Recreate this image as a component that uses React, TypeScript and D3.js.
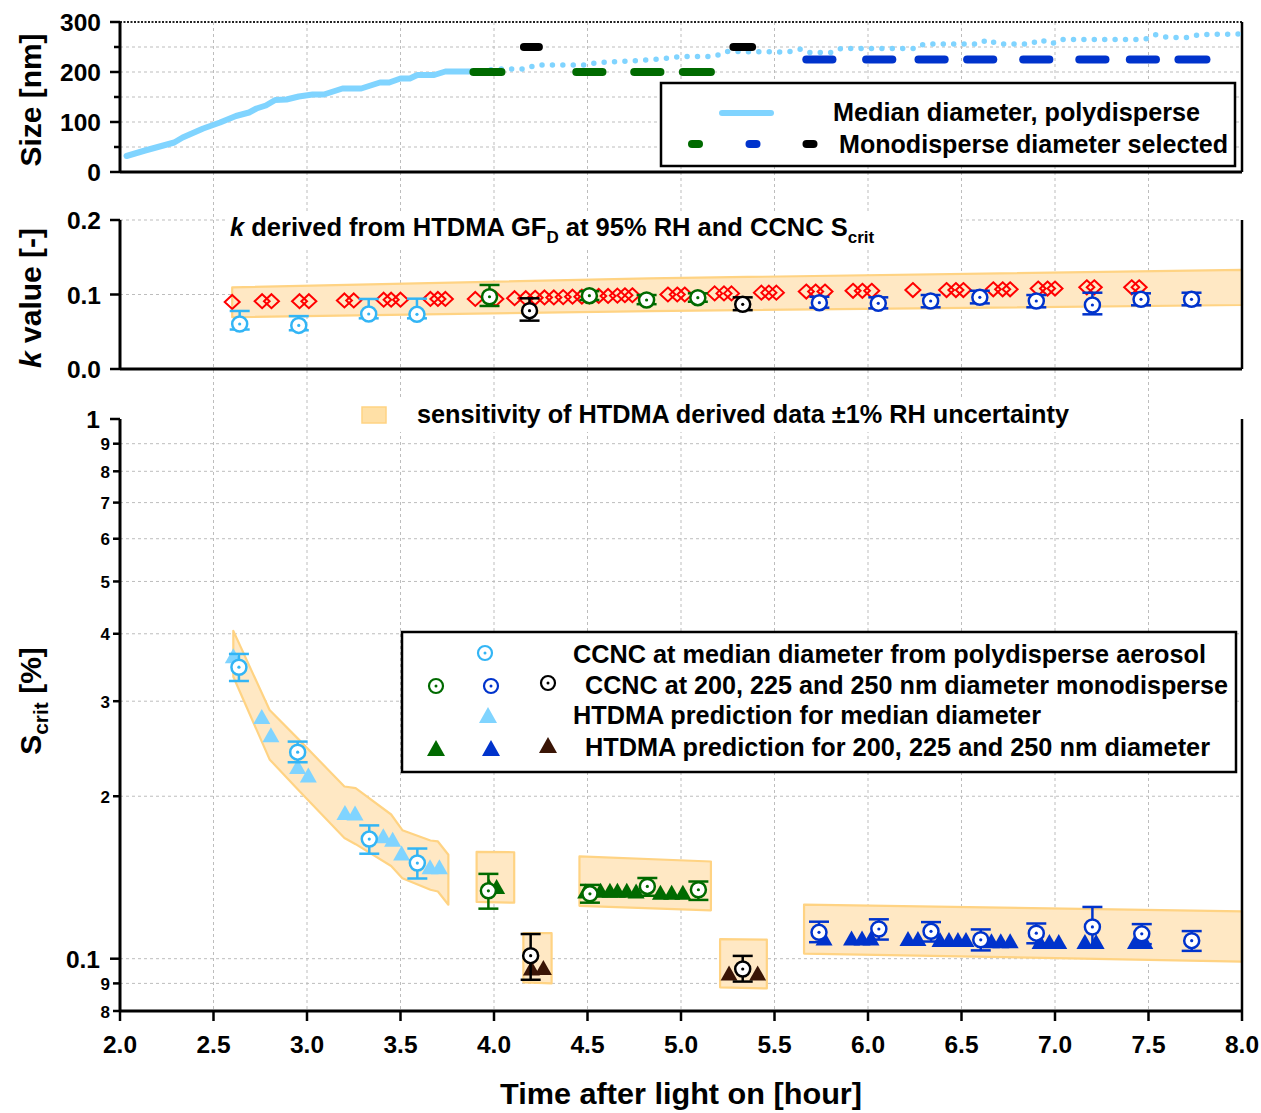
import React from "react";
import * as d3 from "d3";

// ---------------- data ----------------
const timeTicks = [2.0, 2.5, 3.0, 3.5, 4.0, 4.5, 5.0, 5.5, 6.0, 6.5, 7.0, 7.5, 8.0];
const sizeTicks = [0, 100, 200, 300];
const sizeMinor = [50, 150, 250];
const sizeGrid = [50, 100, 150, 200, 250];
const kTicks = [0.0, 0.1, 0.2];
const kGrid = [0.1, 0.2];
const sMajor = [1, 0.1];
const sMinor = [0.9, 0.8, 0.7, 0.6, 0.5, 0.4, 0.3, 0.2, 0.09, 0.08];
const sGrid = [0.9, 0.8, 0.7, 0.6, 0.5, 0.4, 0.3, 0.2, 0.1, 0.09];

// Median diameter (polydisperse) - solid part
const medianT = [2.035, 2.134, 2.29, 2.335, 2.445, 2.535, 2.62, 2.69, 2.73, 2.78, 2.83, 2.89, 2.956, 3.03, 3.09, 3.19, 3.29, 3.39, 3.44, 3.5, 3.55, 3.59, 3.68, 3.74, 3.89];
const medianD = [32, 43, 59, 69, 87, 99, 112, 119, 127, 133, 144, 145, 151, 155, 155, 167, 167, 179, 179, 187, 187, 194, 194, 201, 201];
// Median diameter - dotted continuation
const medianDotT = [3.93, 4.0, 4.17, 4.22, 4.49, 4.55, 4.73, 4.89, 5.0, 5.18, 5.24, 5.57, 5.64, 5.69, 5.8, 5.855, 6.25, 6.3, 6.59, 6.64, 6.69, 6.87, 6.92, 6.98, 7.03, 7.48, 7.54, 7.6, 7.71, 7.77, 8.0];
const medianDotD = [199, 206, 206, 214, 214, 219, 222, 226, 231, 231, 241, 240, 246, 239, 239, 247, 247, 256, 256, 265, 256, 256, 265, 256, 265, 265, 275, 269, 269, 275, 276];

// Monodisperse selected diameter periods [start, end]
const mono200 = [[3.89, 4.04], [4.44, 4.58], [4.75, 4.89], [5.01, 5.16]];
const mono225 = [[5.67, 5.81], [5.99, 6.13], [6.27, 6.41], [6.53, 6.67], [6.83, 6.97], [7.13, 7.27], [7.4, 7.54], [7.66, 7.81]];
const mono250 = [[4.16, 4.24], [5.28, 5.38]];

// k panel: sensitivity band
const kBandT = [2.6, 4.83, 8.0];
const kBandHi = [0.1096, 0.1217, 0.133];
const kBandLo = [0.0695, 0.0778, 0.0859];

// k from HTDMA (red diamonds)
const kHtdmaT = [2.6, 2.76, 2.81, 2.96, 3.01, 3.2, 3.25, 3.41, 3.45, 3.5, 3.66, 3.7, 3.74, 3.9, 4.01,
  4.11, 4.17, 4.22, 4.27, 4.32, 4.37, 4.42, 4.47, 4.51, 4.56, 4.61, 4.66, 4.7, 4.74,
  4.93, 4.98, 5.02, 5.18, 5.23, 5.27, 5.43, 5.47, 5.51, 5.67, 5.72, 5.77, 5.92, 5.97, 6.02,
  6.24, 6.42, 6.47, 6.51, 6.67, 6.72, 6.76, 6.91, 6.96, 7.0, 7.17, 7.21, 7.41, 7.45];
const kHtdmaV = [0.09, 0.091, 0.091, 0.091, 0.091, 0.092, 0.092, 0.093, 0.093, 0.093, 0.094, 0.094, 0.094, 0.094, 0.094,
  0.095, 0.095, 0.0955, 0.096, 0.096, 0.0965, 0.097, 0.097, 0.0975, 0.098, 0.098, 0.0985, 0.099, 0.099,
  0.1, 0.1, 0.1, 0.1015, 0.1015, 0.1015, 0.1025, 0.1025, 0.1025, 0.104, 0.104, 0.104, 0.105, 0.105, 0.105,
  0.106, 0.106, 0.106, 0.106, 0.107, 0.107, 0.107, 0.108, 0.108, 0.108, 0.1097, 0.1097, 0.1097, 0.1097];

// k from CCNC (circles, with error bars)
const kMedT = [2.64, 2.956, 3.33, 3.588];
const kMedV = [0.0604, 0.0585, 0.0738, 0.0734];
const kMedHi = [0.0779, 0.071, 0.094, 0.0944];
const kMedLo = [0.053, 0.052, 0.068, 0.068];
const k200T = [3.976, 4.51, 4.816, 5.09];
const k200V = [0.097, 0.0984, 0.0926, 0.0957];
const k200Hi = [0.1128, 0.1045, 0.0993, 0.1016];
const k200Lo = [0.0846, 0.0926, 0.087, 0.0903];
const k225T = [5.74, 6.055, 6.335, 6.598, 6.9, 7.2, 7.46, 7.73];
const k225V = [0.089, 0.0881, 0.0913, 0.0962, 0.0913, 0.0859, 0.0935, 0.0935];
const k225Hi = [0.097, 0.0962, 0.0993, 0.105, 0.0993, 0.1024, 0.1016, 0.1024];
const k225Lo = [0.0823, 0.0814, 0.0828, 0.0881, 0.0828, 0.0734, 0.0855, 0.0855];
const k250T = [4.19, 5.33];
const k250V = [0.0783, 0.0868];
const k250Hi = [0.0949, 0.0962];
const k250Lo = [0.0649, 0.079];

// S_crit panel: sensitivity bands
const bandMedT = [2.606, 2.8, 2.95, 3.2, 3.26, 3.45, 3.51, 3.66, 3.7, 3.756];
const bandMedHi = [0.405, 0.289, 0.256, 0.2085, 0.207, 0.185, 0.173, 0.1656, 0.1649, 0.1558];
const bandMedLo = [0.333, 0.234, 0.206, 0.1673, 0.163, 0.1485, 0.141, 0.1342, 0.1332, 0.1259];
const band200aT = [3.907, 4.108];
const band200aHi = [0.1578, 0.1575];
const band200aLo = [0.1274, 0.127];
const band250aT = [4.157, 4.308];
const band250aHi = [0.1115, 0.1115];
const band250aLo = [0.0904, 0.09];
const band200bT = [4.457, 5.16];
const band200bHi = [0.1547, 0.1514];
const band200bLo = [0.1253, 0.1229];
const band250bT = [5.209, 5.459];
const band250bHi = [0.1087, 0.1085];
const band250bLo = [0.0885, 0.0881];
const band225T = [5.658, 8.0];
const band225Hi = [0.1259, 0.1224];
const band225Lo = [0.1022, 0.0988];

// S_crit from HTDMA (triangles)
const sHtMedT = [2.606, 2.758, 2.807, 2.95, 3.007, 3.203, 3.257, 3.408, 3.458, 3.506, 3.658, 3.708];
const sHtMedV = [0.364, 0.281, 0.26, 0.227, 0.219, 0.1866, 0.1862, 0.169, 0.1664, 0.157, 0.148, 0.148];
const sHt200T = [3.975, 4.014, 4.49, 4.57, 4.62, 4.66, 4.71, 4.76, 4.89, 4.95, 5.01];
const sHt200V = [0.1361, 0.1361, 0.1335, 0.1339, 0.1339, 0.1339, 0.1339, 0.1335, 0.1328, 0.1328, 0.1328];
const sHt225T = [5.765, 5.912, 5.968, 6.016, 6.214, 6.267, 6.385, 6.433, 6.481, 6.524, 6.66, 6.71, 6.76, 6.92, 6.97, 7.02, 7.16, 7.22, 7.43, 7.48];
const sHt225V = [0.1092, 0.1092, 0.1092, 0.1092, 0.109, 0.109, 0.1085, 0.1085, 0.1085, 0.1085, 0.108, 0.108, 0.108, 0.1076, 0.1076, 0.1076, 0.1076, 0.1076, 0.1076, 0.1076];
const sHt250T = [4.2, 4.264, 5.257, 5.41];
const sHt250V = [0.0961, 0.0963, 0.0941, 0.0941];

// S_crit from CCNC (circles with error bars)
const sMedT = [2.636, 2.95, 3.333, 3.59];
const sMedV = [0.3468, 0.2414, 0.1666, 0.1504];
const sMedHi = [0.367, 0.2525, 0.1766, 0.16];
const sMedLo = [0.327, 0.2312, 0.1565, 0.1408];
const s200T = [3.97, 4.513, 4.82, 5.093];
const s200V = [0.1336, 0.1319, 0.1361, 0.1342];
const s200Hi = [0.1436, 0.137, 0.1411, 0.139];
const s200Lo = [0.1238, 0.127, 0.1308, 0.1285];
const s225T = [5.738, 6.058, 6.337, 6.603, 6.9, 7.2, 7.464, 7.731];
const s225V = [0.1119, 0.1135, 0.1124, 0.1084, 0.1115, 0.1145, 0.1112, 0.108];
const s225Hi = [0.1171, 0.1183, 0.1169, 0.1133, 0.1162, 0.1247, 0.1159, 0.1125];
const s225Lo = [0.1073, 0.1085, 0.1076, 0.1036, 0.1068, 0.1051, 0.1064, 0.1034];
const s250T = [4.196, 5.33];
const s250V = [0.1013, 0.0957];
const s250Hi = [0.1111, 0.1012];
const s250Lo = [0.0914, 0.0907];

// ---------------- styling ----------------
const FONT = "'Liberation Sans', Arial, Helvetica, sans-serif";
const C_LINE = "#80d4ff";
const C_MED_CIRC = "#33b5f5";
const C_GREEN = "#006a00";
const C_BLUE = "#0033cc";
const C_BLACK = "#000000";
const C_BROWN = "#3a1506";
const C_RED = "#ff0000";
const BAND_FILL = "#ffe8c4";
const BAND_EDGE = "#ffd383";
const GRID = "#bdbdbd";

// ---------------- scales ----------------
const x = d3.scaleLinear().domain([2, 8]).range([120, 1242]);
const ySize = d3.scaleLinear().domain([0, 300]).range([172, 22]);
const yK = d3.scaleLinear().domain([0, 0.2]).range([369, 220]);
const yS = d3.scaleLog().domain([0.08, 1]).range([1011, 419]);

const zip3 = (t: number[], a: number[], b: number[]) => t.map((v, i) => ({ t: v, hi: a[i], lo: b[i] }));

function Band({ t, hi, lo, y }: any) {
  const area = d3.area<any>().x((d) => x(d.t)).y0((d) => y(d.lo)).y1((d) => y(d.hi));
  return <path d={area(zip3(t, hi, lo)) || ""} fill={BAND_FILL} stroke={BAND_EDGE} strokeWidth={2.2} strokeLinejoin="round" />;
}

function ErrCircle({ cx, cy, yHi, yLo, color, r = 7.5 }: any) {
  return (
    <g>
      <line x1={cx} x2={cx} y1={yHi} y2={yLo} stroke={color} strokeWidth={2.5} />
      <line x1={cx - 10} x2={cx + 10} y1={yHi} y2={yHi} stroke={color} strokeWidth={2.5} />
      <line x1={cx - 10} x2={cx + 10} y1={yLo} y2={yLo} stroke={color} strokeWidth={2.5} />
      <circle cx={cx} cy={cy} r={r} fill="#fff" stroke={color} strokeWidth={2.5} />
      <circle cx={cx} cy={cy} r={1.6} fill={color} />
    </g>
  );
}

function Circ({ cx, cy, color, r = 7 }: any) {
  return (
    <g>
      <circle cx={cx} cy={cy} r={r} fill="#fff" stroke={color} strokeWidth={2.2} />
      <circle cx={cx} cy={cy} r={1.5} fill={color} />
    </g>
  );
}

function Tri({ cx, cy, color, hw = 8.5, h = 15 }: any) {
  return <path d={`M${cx},${cy - h / 2}L${cx + hw},${cy + h / 2}L${cx - hw},${cy + h / 2}Z`} fill={color} />;
}

function Diamond({ cx, cy }: any) {
  return <path d={`M${cx},${cy - 7}L${cx + 7.5},${cy}L${cx},${cy + 7}L${cx - 7.5},${cy}Z`} fill="none" stroke={C_RED} strokeWidth={2} />;
}

function circlesGroup(t: number[], v: number[], hi: number[], lo: number[], y: any, color: string, key: string) {
  return t.map((tt, i) => (
    <ErrCircle key={key + i} cx={x(tt)} cy={y(v[i])} yHi={y(hi[i])} yLo={y(lo[i])} color={color} />
  ));
}

function trianglesGroup(t: number[], v: number[], color: string, key: string) {
  return t.map((tt, i) => <Tri key={key + i} cx={x(tt)} cy={yS(v[i])} color={color} />);
}

export default function App() {
  const lineSolid = d3.line<number>().x((d, i) => x(medianT[i])).y((d) => ySize(d));
  const lineDot = d3.line<number>().x((d, i) => x(medianDotT[i])).y((d) => ySize(d));
  const xL = x(2), xR = x(8);
  const gridTimes = timeTicks.filter((t) => t > 2 && t < 8);

  const monoSeg = (segs: number[][], size: number, color: string, key: string) =>
    segs.map((s, i) => (
      <line key={key + i} x1={x(s[0])} x2={x(s[1])} y1={ySize(size)} y2={ySize(size)} stroke={color} strokeWidth={8} strokeLinecap="round" />
    ));

  const tickText = { fontFamily: FONT, fontWeight: 700, fontSize: 24.5, fill: "#000" } as any;

  return (
    <svg width={1261} height={1113} style={{ position: "absolute", left: 0, top: 0, background: "#fff" }} fontFamily={FONT}>
      <rect x={0} y={0} width={1261} height={1113} fill="#fff" />

      {/* vertical grid lines through all panels */}
      {gridTimes.map((t) => (
        <line key={"vg" + t} x1={x(t)} x2={x(t)} y1={ySize(300)} y2={yS(0.08)} stroke={GRID} strokeWidth={1} strokeDasharray="3,3" />
      ))}
      {/* horizontal grids */}
      {sizeGrid.map((v) => (
        <line key={"hs" + v} x1={xL} x2={xR} y1={ySize(v)} y2={ySize(v)} stroke={GRID} strokeWidth={1} strokeDasharray="3,3" />
      ))}
      {kGrid.map((v) => (
        <line key={"hk" + v} x1={xL} x2={xR} y1={yK(v)} y2={yK(v)} stroke={GRID} strokeWidth={1} strokeDasharray="3,3" />
      ))}
      {sGrid.map((v) => (
        <line key={"hS" + v} x1={xL} x2={xR} y1={yS(v)} y2={yS(v)} stroke={GRID} strokeWidth={1} strokeDasharray="3,3" />
      ))}

      {/* white backgrounds of in-plot titles */}
      <rect x={226} y={211} width={732} height={36} fill="#fff" />
      <rect x={355} y={398} width={722} height={34} fill="#fff" />

      {/* ---------- TOP PANEL ---------- */}
      <line x1={xL} x2={xR} y1={ySize(300)} y2={ySize(300)} stroke="#222" strokeWidth={2} strokeDasharray="2,1.5" />
      <line x1={xR} x2={xR} y1={ySize(300)} y2={ySize(0)} stroke="#000" strokeWidth={2.5} />
      <path d={lineDot(medianDotD) || ""} fill="none" stroke={C_LINE} strokeWidth={5.5} strokeLinecap="round" strokeDasharray="0 10.4" />
      <path d={lineSolid(medianD) || ""} fill="none" stroke={C_LINE} strokeWidth={6} strokeLinejoin="round" strokeLinecap="round" />
      {monoSeg(mono200, 200, C_GREEN, "m2")}
      {monoSeg(mono250, 250, C_BLACK, "m5")}
      {monoSeg(mono225, 225, C_BLUE, "m3")}
      <line x1={xL} x2={xR} y1={ySize(0)} y2={ySize(0)} stroke="#000" strokeWidth={3} />
      <line x1={xL} x2={xL} y1={ySize(300)} y2={ySize(0)} stroke="#000" strokeWidth={3} />
      {sizeTicks.map((v) => (
        <g key={"st" + v}>
          <line x1={xL - 10} x2={xL} y1={ySize(v)} y2={ySize(v)} stroke="#000" strokeWidth={2.5} />
          <text x={101} y={ySize(v) + 9} textAnchor="end" {...tickText}>{v}</text>
        </g>
      ))}
      {sizeMinor.map((v) => (
        <line key={"sm" + v} x1={xL - 6} x2={xL} y1={ySize(v)} y2={ySize(v)} stroke="#000" strokeWidth={2.5} />
      ))}
      <text transform="translate(41,100) rotate(-90)" textAnchor="middle" fontWeight={700} fontSize={30} textLength={133} lengthAdjust="spacingAndGlyphs">Size [nm]</text>

      {/* top legend */}
      <rect x={661} y={83} width={574} height={83} fill="#fff" stroke="#000" strokeWidth={2.5} />
      <line x1={722} x2={771} y1={113} y2={113} stroke={C_LINE} strokeWidth={6} strokeLinecap="round" />
      <text x={833} y={121} fontWeight={700} fontSize={25.5} textLength={367} lengthAdjust="spacingAndGlyphs">Median diameter, polydisperse</text>
      <line x1={692} x2={699} y1={144} y2={144} stroke={C_GREEN} strokeWidth={8} strokeLinecap="round" />
      <line x1={749.5} x2={756.5} y1={144} y2={144} stroke={C_BLUE} strokeWidth={8} strokeLinecap="round" />
      <line x1={806.5} x2={813.5} y1={144} y2={144} stroke={C_BLACK} strokeWidth={8} strokeLinecap="round" />
      <text x={839} y={153} fontWeight={700} fontSize={25.5} textLength={389} lengthAdjust="spacingAndGlyphs">Monodisperse diameter selected</text>

      {/* ---------- MIDDLE PANEL ---------- */}
      <Band t={kBandT} hi={kBandHi} lo={kBandLo} y={yK} />
      {kHtdmaT.map((t, i) => <Diamond key={"d" + i} cx={x(t)} cy={yK(kHtdmaV[i])} />)}
      {circlesGroup(kMedT, kMedV, kMedHi, kMedLo, yK, C_MED_CIRC, "km")}
      {circlesGroup(k200T, k200V, k200Hi, k200Lo, yK, C_GREEN, "k2")}
      {circlesGroup(k250T, k250V, k250Hi, k250Lo, yK, C_BLACK, "k5")}
      {circlesGroup(k225T, k225V, k225Hi, k225Lo, yK, C_BLUE, "k3")}
      <line x1={xR} x2={xR} y1={yK(0.2)} y2={yK(0)} stroke="#000" strokeWidth={2.5} />
      <line x1={xL} x2={xR} y1={yK(0)} y2={yK(0)} stroke="#000" strokeWidth={3} />
      <line x1={xL} x2={xL} y1={yK(0.2)} y2={yK(0)} stroke="#000" strokeWidth={3} />
      {kTicks.map((v) => (
        <g key={"kt" + v}>
          <line x1={xL - 10} x2={xL} y1={yK(v)} y2={yK(v)} stroke="#000" strokeWidth={2.5} />
          <text x={101} y={yK(v) + 9} textAnchor="end" {...tickText}>{v.toFixed(1)}</text>
        </g>
      ))}
      <text transform="translate(41,298) rotate(-90)" textAnchor="middle" fontWeight={700} fontSize={30} textLength={140} lengthAdjust="spacingAndGlyphs">
        <tspan fontStyle="italic">k</tspan> value [-]
      </text>
      <text x={230} y={236} fontWeight={700} fontSize={25.5}>
        <tspan fontStyle="italic">k</tspan>
        <tspan> derived from HTDMA GF</tspan>
        <tspan fontSize={17} dy={7}>D</tspan>
        <tspan dy={-7}> at 95% RH and CCNC S</tspan>
        <tspan fontSize={17} dy={7}>crit</tspan>
      </text>

      {/* ---------- BOTTOM PANEL ---------- */}
      <rect x={362} y={407} width={24} height={16} fill="#ffe0a6" stroke={BAND_EDGE} strokeWidth={1.5} />
      <text x={417} y={423} fontWeight={700} fontSize={25.5} textLength={652} lengthAdjust="spacingAndGlyphs">sensitivity of HTDMA derived data ±1% RH uncertainty</text>

      <Band t={bandMedT} hi={bandMedHi} lo={bandMedLo} y={yS} />
      <Band t={band200aT} hi={band200aHi} lo={band200aLo} y={yS} />
      <Band t={band250aT} hi={band250aHi} lo={band250aLo} y={yS} />
      <Band t={band200bT} hi={band200bHi} lo={band200bLo} y={yS} />
      <Band t={band250bT} hi={band250bHi} lo={band250bLo} y={yS} />
      <Band t={band225T} hi={band225Hi} lo={band225Lo} y={yS} />

      {trianglesGroup(sHtMedT, sHtMedV, C_LINE, "tm")}
      {trianglesGroup(sHt200T, sHt200V, C_GREEN, "t2")}
      {trianglesGroup(sHt250T, sHt250V, C_BROWN, "t5")}
      {trianglesGroup(sHt225T, sHt225V, C_BLUE, "t3")}

      {circlesGroup(sMedT, sMedV, sMedHi, sMedLo, yS, C_MED_CIRC, "sm")}
      {circlesGroup(s200T, s200V, s200Hi, s200Lo, yS, C_GREEN, "s2")}
      {circlesGroup(s250T, s250V, s250Hi, s250Lo, yS, C_BLACK, "s5")}
      {circlesGroup(s225T, s225V, s225Hi, s225Lo, yS, C_BLUE, "s3")}

      <line x1={xR} x2={xR} y1={yS(1)} y2={yS(0.08)} stroke="#000" strokeWidth={2.5} />
      <line x1={xL} x2={xR} y1={yS(0.08)} y2={yS(0.08)} stroke="#000" strokeWidth={3} />
      <line x1={xL} x2={xL} y1={yS(1)} y2={yS(0.08)} stroke="#000" strokeWidth={3} />
      {sMajor.map((v) => (
        <g key={"sM" + v}>
          <line x1={xL - 10} x2={xL} y1={yS(v)} y2={yS(v)} stroke="#000" strokeWidth={2.5} />
          <text x={100} y={yS(v) + 9} textAnchor="end" {...tickText}>{v === 1 ? "1" : "0.1"}</text>
        </g>
      ))}
      {sMinor.map((v) => (
        <g key={"sn" + v}>
          <line x1={xL - 7} x2={xL} y1={yS(v)} y2={yS(v)} stroke="#000" strokeWidth={2.5} />
          <text x={110} y={yS(v) + 6.5} textAnchor="end" fontWeight={700} fontSize={17}>{Math.round(v >= 0.1 ? v * 10 : v * 100)}</text>
        </g>
      ))}
      {timeTicks.map((t) => (
        <g key={"xt" + t}>
          <line x1={x(t)} x2={x(t)} y1={yS(0.08)} y2={yS(0.08) + 10} stroke="#000" strokeWidth={2.5} />
          <text x={x(t)} y={1053} textAnchor="middle" {...tickText}>{t.toFixed(1)}</text>
        </g>
      ))}
      <text x={681} y={1104} textAnchor="middle" fontWeight={700} fontSize={30} textLength={362} lengthAdjust="spacingAndGlyphs">Time after light on [hour]</text>
      <text transform="translate(41,701) rotate(-90)" textAnchor="middle" fontWeight={700} fontSize={30}>
        <tspan>S</tspan>
        <tspan fontSize={21} dy={7}>crit</tspan>
        <tspan dy={-7}> [%]</tspan>
      </text>

      {/* bottom legend */}
      <rect x={402} y={632} width={834} height={140} fill="#fff" stroke="#000" strokeWidth={2.5} />
      <Circ cx={485} cy={653} color={C_MED_CIRC} />
      <text x={573} y={663} fontWeight={700} fontSize={25.5} textLength={633} lengthAdjust="spacingAndGlyphs">CCNC at median diameter from polydisperse aerosol</text>
      <Circ cx={436} cy={686} color={C_GREEN} />
      <Circ cx={491} cy={686} color={C_BLUE} />
      <Circ cx={548} cy={683} color={C_BLACK} />
      <text x={585} y={694} fontWeight={700} fontSize={25.5} textLength={643} lengthAdjust="spacingAndGlyphs">CCNC at 200, 225 and 250 nm diameter monodisperse</text>
      <Tri cx={488} cy={715} color={C_LINE} hw={9} h={16} />
      <text x={573} y={724} fontWeight={700} fontSize={25.5} textLength={468} lengthAdjust="spacingAndGlyphs">HTDMA prediction for median diameter</text>
      <Tri cx={436} cy={748} color={C_GREEN} hw={9} h={16} />
      <Tri cx={491} cy={748} color={C_BLUE} hw={9} h={16} />
      <Tri cx={548} cy={745} color={C_BROWN} hw={9} h={16} />
      <text x={585} y={756} fontWeight={700} fontSize={25.5} textLength={625} lengthAdjust="spacingAndGlyphs">HTDMA prediction for 200, 225 and 250 nm diameter</text>
    </svg>
  );
}
